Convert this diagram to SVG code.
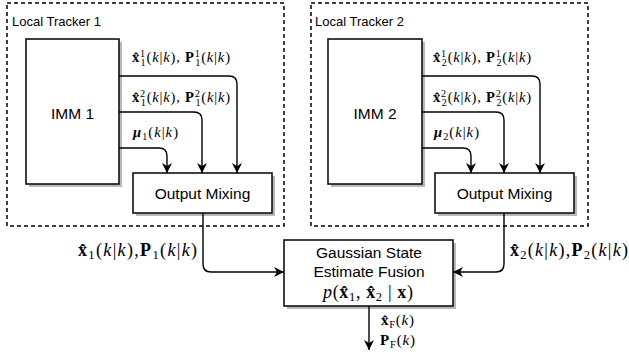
<svg xmlns="http://www.w3.org/2000/svg" width="629" height="360" viewBox="0 0 629 360">
  <style>
    .frame { fill: none; stroke: #000; stroke-width: 1.5; stroke-dasharray: 4 3; }
    .box { fill: #fff; stroke: #111; stroke-width: 1.6; }
    .shadow { fill: #b8b8b8; }
    .edge { fill: none; stroke: #000; stroke-width: 1.4; }
    .lbl { font-family: "Liberation Sans", Arial, sans-serif; font-size: 15.5px; fill: #000; text-anchor: middle; }
    .cap { font-family: "Liberation Sans", Arial, sans-serif; font-size: 13px; fill: #000; }
    .m { font-family: "Liberation Serif", "Times New Roman", serif; fill: #000; }
    .m14 { font-size: 14.6px; }
    .m18 { font-size: 18px; }
    .m15 { font-size: 15px; }
    .b { font-weight: bold; }
    .i { font-style: italic; }
    .s { font-size: 0.7em; }
  </style>
  <defs>
    <marker id="arrow" markerUnits="userSpaceOnUse" viewBox="0 0 10 10" markerWidth="10" markerHeight="10" refX="10" refY="5" orient="auto">
      <path d="M0,0 L10,5 L0,10 L3,5 Z" fill="#000"/>
    </marker>
  </defs>

  <rect width="629" height="360" fill="#fff"/>

  <!-- tracker frames -->
  <g id="tracker1">
    <rect class="frame" x="7" y="3" width="277" height="223"/>
    <text class="cap" x="12" y="26">Local Tracker 1</text>
  </g>
  <g id="tracker2">
    <rect class="frame" x="311" y="3" width="277" height="223"/>
    <text class="cap" x="315" y="26">Local Tracker 2</text>
  </g>

  <!-- blocks -->
  <g id="imm1">
    <rect class="shadow" x="29" y="42" width="93" height="145"/>
    <rect class="box" x="26" y="39" width="93" height="145"/>
    <text class="lbl" x="72.5" y="119">IMM 1</text>
  </g>
  <g id="mix1">
    <rect class="shadow" x="136" y="176" width="139" height="40"/>
    <rect class="box" x="133" y="173" width="139" height="40"/>
    <text class="lbl" x="202.5" y="198.5">Output Mixing</text>
  </g>
  <g id="imm2">
    <rect class="shadow" x="331" y="42" width="94" height="145"/>
    <rect class="box" x="328" y="39" width="94" height="145"/>
    <text class="lbl" x="375" y="119">IMM 2</text>
  </g>
  <g id="mix2">
    <rect class="shadow" x="438" y="176" width="139" height="40"/>
    <rect class="box" x="435" y="173" width="139" height="40"/>
    <text class="lbl" x="504.5" y="198.5">Output Mixing</text>
  </g>
  <g id="fusion">
    <rect class="shadow" x="287" y="243" width="169" height="66"/>
    <rect class="box" x="284" y="240" width="169" height="66"/>
    <text class="lbl" x="369" y="258">Gaussian State</text>
    <text class="lbl" x="369" y="277">Estimate Fusion</text>
    <text class="m m18" x="323" y="298" textLength="90"><tspan class="i">p</tspan>(<tspan class="b">x̂</tspan><tspan class="s" dy="3">1</tspan><tspan dy="-3">, </tspan><tspan class="b">x̂</tspan><tspan class="s" dy="3">2</tspan><tspan dy="-3"> | </tspan><tspan class="b">x</tspan>)</text>
  </g>

  <!-- connectors -->
  <g id="connectors">
    <path class="edge" d="M119,76 H229 Q237,76 237,84 V173" marker-end="url(#arrow)"/>
    <path class="edge" d="M119,112 H194 Q202,112 202,120 V173" marker-end="url(#arrow)"/>
    <path class="edge" d="M119,148 H159 Q167,148 167,156 V173" marker-end="url(#arrow)"/>
    <path class="edge" d="M422,76 H532 Q540,76 540,84 V173" marker-end="url(#arrow)"/>
    <path class="edge" d="M422,112 H496 Q504,112 504,120 V173" marker-end="url(#arrow)"/>
    <path class="edge" d="M422,148 H463 Q471,148 471,156 V173" marker-end="url(#arrow)"/>
    <path class="edge" d="M203,213 V264 Q203,272 211,272 H284" marker-end="url(#arrow)"/>
    <path class="edge" d="M504,213 V264 Q504,272 496,272 H453" marker-end="url(#arrow)"/>
    <path class="edge" d="M369,306 V350" marker-end="url(#arrow)"/>
  </g>

  <!-- signal labels -->
  <g id="labels">
    <text class="m m14" x="132" y="62" textLength="98"><tspan class="b">x̂</tspan><tspan class="s" dy="-5.5">1</tspan><tspan class="s" dx="-5.1" dy="9">1</tspan><tspan dy="-3.5">(</tspan><tspan class="i">k</tspan>|<tspan class="i">k</tspan>), <tspan class="b">P</tspan><tspan class="s" dy="-5.5">1</tspan><tspan class="s" dx="-5.1" dy="9">1</tspan><tspan dy="-3.5">(</tspan><tspan class="i">k</tspan>|<tspan class="i">k</tspan>)</text>
    <text class="m m14" x="132" y="102" textLength="98"><tspan class="b">x̂</tspan><tspan class="s" dy="-5.5">2</tspan><tspan class="s" dx="-5.1" dy="9">1</tspan><tspan dy="-3.5">(</tspan><tspan class="i">k</tspan>|<tspan class="i">k</tspan>), <tspan class="b">P</tspan><tspan class="s" dy="-5.5">2</tspan><tspan class="s" dx="-5.1" dy="9">1</tspan><tspan dy="-3.5">(</tspan><tspan class="i">k</tspan>|<tspan class="i">k</tspan>)</text>
    <text class="m m14" x="133" y="137" textLength="45"><tspan class="b i">μ</tspan><tspan class="s" dy="2.5">1</tspan><tspan dy="-2.5">(</tspan><tspan class="i">k</tspan>|<tspan class="i">k</tspan>)</text>

    <text class="m m14" x="433" y="62" textLength="98"><tspan class="b">x̂</tspan><tspan class="s" dy="-5.5">1</tspan><tspan class="s" dx="-5.1" dy="9">2</tspan><tspan dy="-3.5">(</tspan><tspan class="i">k</tspan>|<tspan class="i">k</tspan>), <tspan class="b">P</tspan><tspan class="s" dy="-5.5">1</tspan><tspan class="s" dx="-5.1" dy="9">2</tspan><tspan dy="-3.5">(</tspan><tspan class="i">k</tspan>|<tspan class="i">k</tspan>)</text>
    <text class="m m14" x="433" y="102" textLength="98"><tspan class="b">x̂</tspan><tspan class="s" dy="-5.5">2</tspan><tspan class="s" dx="-5.1" dy="9">2</tspan><tspan dy="-3.5">(</tspan><tspan class="i">k</tspan>|<tspan class="i">k</tspan>), <tspan class="b">P</tspan><tspan class="s" dy="-5.5">2</tspan><tspan class="s" dx="-5.1" dy="9">2</tspan><tspan dy="-3.5">(</tspan><tspan class="i">k</tspan>|<tspan class="i">k</tspan>)</text>
    <text class="m m14" x="434" y="137" textLength="45"><tspan class="b i">μ</tspan><tspan class="s" dy="2.5">2</tspan><tspan dy="-2.5">(</tspan><tspan class="i">k</tspan>|<tspan class="i">k</tspan>)</text>

    <text class="m m18" x="78" y="256" textLength="119"><tspan class="b">x̂</tspan><tspan class="s" dy="3">1</tspan><tspan dy="-3">(</tspan><tspan class="i">k</tspan>|<tspan class="i">k</tspan>),<tspan class="b">P</tspan><tspan class="s" dy="3">1</tspan><tspan dy="-3">(</tspan><tspan class="i">k</tspan>|<tspan class="i">k</tspan>)</text>
    <text class="m m18" x="510" y="256" textLength="118"><tspan class="b">x̂</tspan><tspan class="s" dy="3">2</tspan><tspan dy="-3">(</tspan><tspan class="i">k</tspan>|<tspan class="i">k</tspan>),<tspan class="b">P</tspan><tspan class="s" dy="3">2</tspan><tspan dy="-3">(</tspan><tspan class="i">k</tspan>|<tspan class="i">k</tspan>)</text>

    <text class="m m15" x="381" y="325" textLength="33"><tspan class="b">x̂</tspan><tspan class="s" dy="2.5">F</tspan><tspan dy="-2.5">(</tspan><tspan class="i">k</tspan>)</text>
    <text class="m m15" x="380" y="345" textLength="35"><tspan class="b">P</tspan><tspan class="s" dy="2.5">F</tspan><tspan dy="-2.5">(</tspan><tspan class="i">k</tspan>)</text>
  </g>
</svg>
